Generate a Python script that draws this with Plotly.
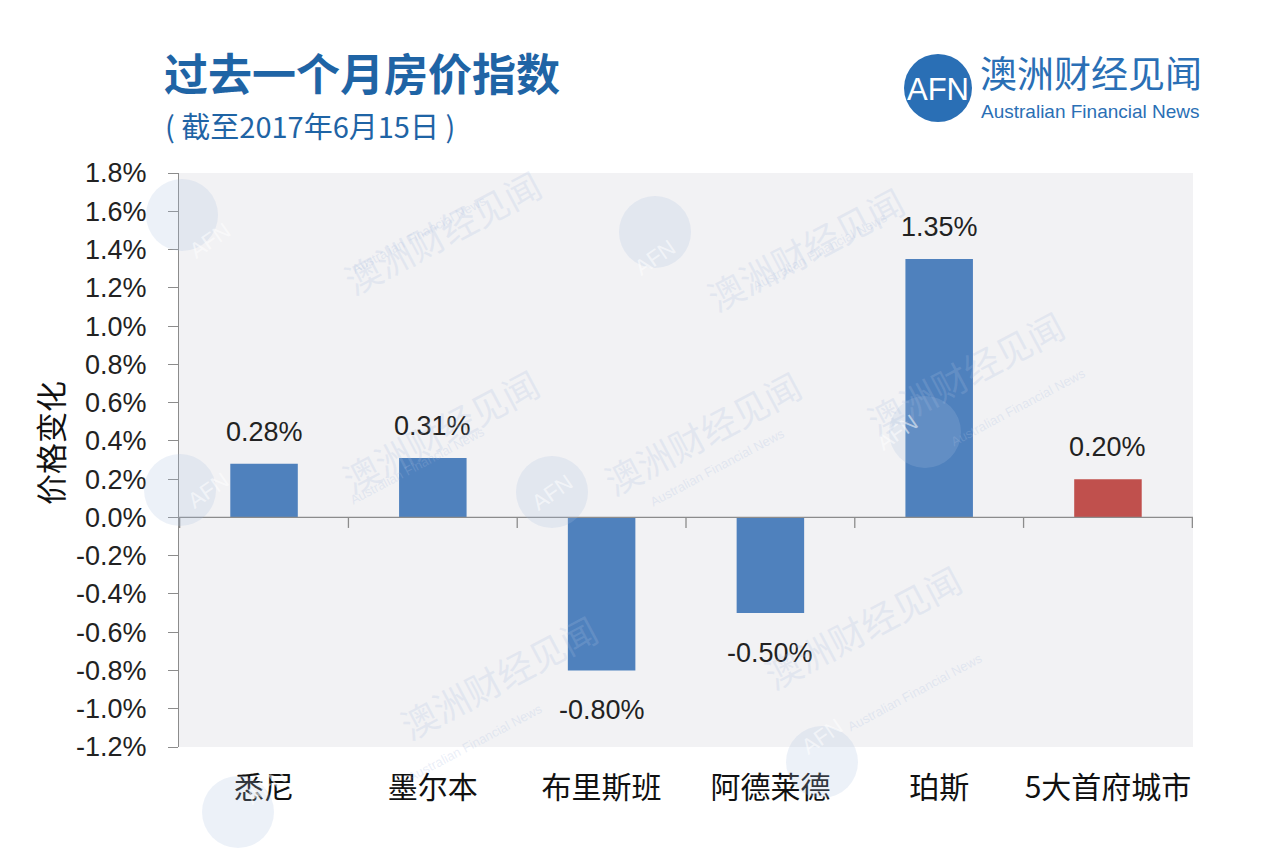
import plotly.graph_objects as go

categories = ["悉尼", "墨尔本", "布里斯班", "阿德莱德", "珀斯", "5大首府城市"]
values = [0.28, 0.31, -0.80, -0.50, 1.35, 0.20]
colors = ["#4f81bd", "#4f81bd", "#4f81bd", "#4f81bd", "#4f81bd", "#c0504d"]
y_ticks = [-1.2, -1.0, -0.8, -0.6, -0.4, -0.2, 0.0, 0.2, 0.4, 0.6, 0.8, 1.0, 1.2, 1.4, 1.6, 1.8]

W, H = 1280, 856
OFF = 8  # page body margin offset
# plot area in screenshot pixels
SL, SR, ST, SB = 179, 1193, 173, 747
L, R, T, B = SL - OFF, SR - OFF, ST - OFF, SB - OFF

def px(x):
    return (x - SL) / (SR - SL)
def py(y):
    return (SB - y) / (SB - ST)

CJK = "Noto Sans CJK SC"
NUM = "Liberation Sans"

fig = go.Figure()
fig.add_trace(go.Bar(
    x=categories, y=values, marker=dict(color=colors, line=dict(width=0)),
    width=0.4, hoverinfo="skip",
))

annotations = []
for c, v in zip(categories, values):
    annotations.append(dict(
        x=c, y=v, xref="x", yref="y", text=f"{v:.2f}%", showarrow=False,
        yshift=32 if v >= 0 else -40,
        font=dict(family=NUM, size=27, color="#222222"),
    ))

shapes = []
# zero line
shapes.append(dict(type="line", xref="paper", yref="y", x0=0, x1=1, y0=0, y1=0,
                   line=dict(color="#8c8c8c", width=1.3)))
# category divider ticks at zero line
n = len(categories)
for i in range(n + 1):
    shapes.append(dict(type="line", xref="x", yref="y", x0=i - 0.5, x1=i - 0.5,
                       y0=0, y1=-0.055, line=dict(color="#8c8c8c", width=1.3)))

# watermarks
wm = [(182, 215), (655, 232), (180, 490), (552, 492), (925, 432), (822, 762), (238, 812)]
for (cx, cy) in wm:
    shapes.append(dict(type="circle", xref="paper", yref="paper",
                       x0=px(cx - 36), x1=px(cx + 36), y0=py(cy + 36), y1=py(cy - 36),
                       fillcolor="rgba(170,190,225,0.22)", line=dict(width=0), layer="above"))
    annotations.append(dict(x=px(cx), y=py(cy), xref="paper", yref="paper", text="AFN",
                            showarrow=False, textangle=-35,
                            font=dict(family=NUM, size=22, color="rgba(255,255,255,0.55)")))
    annotations.append(dict(x=px(cx + 150), y=py(cy - 60), xref="paper", yref="paper",
                            text="澳洲财经见闻", showarrow=False, textangle=-28,
                            font=dict(family=CJK, size=36, color="rgba(170,190,225,0.22)")))
    annotations.append(dict(x=px(cx + 165), y=py(cy - 25), xref="paper", yref="paper",
                            text="Australian Financial News", showarrow=False, textangle=-28,
                            font=dict(family=NUM, size=13, color="rgba(170,190,225,0.25)")))

# title texts
annotations += [
    dict(x=px(162), y=py(72), xref="paper", yref="paper", xanchor="left", yanchor="middle",
         text="<b>过去一个月房价指数</b>", showarrow=False,
         font=dict(family=CJK, size=44, color="#1f64a5")),
    dict(x=px(163), y=py(125), xref="paper", yref="paper", xanchor="left", yanchor="middle",
         text="( 截至2017年6月15日 )", showarrow=False,
         font=dict(family=CJK, size=29, color="#1f64a5")),
    dict(x=px(978), y=py(72), xref="paper", yref="paper", xanchor="left", yanchor="middle",
         text="澳洲财经见闻", showarrow=False,
         font=dict(family=CJK, size=37, color="#2a6fb5")),
    dict(x=px(979), y=py(111), xref="paper", yref="paper", xanchor="left", yanchor="middle",
         text="Australian Financial News", showarrow=False,
         font=dict(family=NUM, size=19, color="#2a6fb5")),
    dict(x=px(938), y=py(89), xref="paper", yref="paper", xanchor="center", yanchor="middle",
         text="AFN", showarrow=False,
         font=dict(family=NUM, size=31, color="#ffffff")),
    dict(x=px(49), y=py(443), xref="paper", yref="paper", xanchor="center", yanchor="middle",
         text="价格变化", showarrow=False, textangle=-90,
         font=dict(family=CJK, size=31, color="#111111")),
]
shapes.append(dict(type="circle", xref="paper", yref="paper",
                   x0=px(938 - 34), x1=px(938 + 34), y0=py(88 + 34), y1=py(88 - 34),
                   fillcolor="#2a6fb5", line=dict(width=0), layer="above"))

fig.update_layout(
    width=W, height=H,
    margin=dict(l=L, r=W - R, t=T, b=H - B, pad=0),
    paper_bgcolor="#ffffff", plot_bgcolor="#f2f2f4",
    showlegend=False,
    shapes=shapes, annotations=annotations,
    xaxis=dict(showgrid=False, showline=False, ticks="", zeroline=False,
               tickfont=dict(family=CJK, size=30, color="#111111"),
               ticklabelstandoff=20, fixedrange=True),
    yaxis=dict(range=[-1.2, 1.8], tickmode="array", tickvals=y_ticks,
               ticktext=[f"{t:.1f}%" for t in y_ticks],
               showgrid=False, zeroline=False, showline=True, linecolor="#8c8c8c", linewidth=1.3,
               ticks="outside", ticklen=10, tickcolor="#8c8c8c", tickwidth=1.3,
               tickfont=dict(family=NUM, size=27, color="#222222"),
               ticklabelstandoff=16, fixedrange=True),
)

fig.write_html("out.html")
